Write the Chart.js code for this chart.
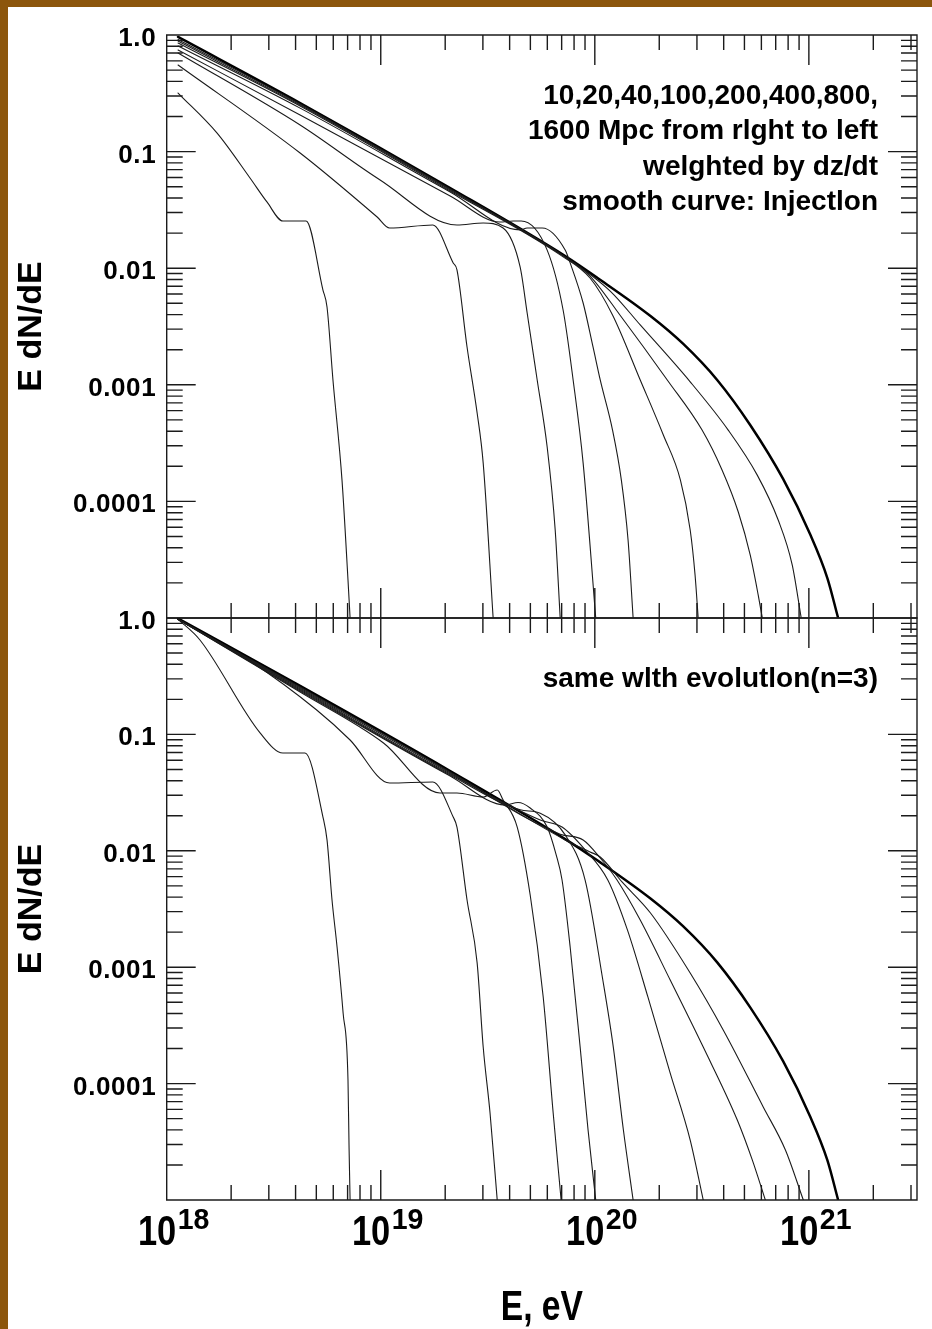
<!DOCTYPE html>
<html>
<head>
<meta charset="utf-8">
<script src="https://cdn.jsdelivr.net/npm/chart.js@4.4.1/dist/chart.umd.min.js"></script>
<style>
  html, body { margin: 0; padding: 0; background: #fff; }
  #page { position: relative; width: 932px; height: 1329px; overflow: hidden; background: #fff; }
  #page canvas { position: absolute; left: 0; }
  #cTop { top: 0; }
  #cBot { top: 580px; }
  .edge { position: absolute; background: #8c560c; z-index: 5; }
</style>
</head>
<body>
<div id="page">
  <canvas id="cTop" width="932" height="640"></canvas>
  <canvas id="cBot" width="932" height="749"></canvas>
  <div class="edge" style="left:0;top:0;width:8px;height:1329px"></div>
  <div class="edge" style="left:0;top:0;width:932px;height:7px"></div>
</div>
<script>
// E (eV), E dN/dE
const distances = [10, 20, 40, 100, 200, 400, 800, 1600]; // Mpc

// top panel: weighted by dz/dt
const topInj = [[1.13e18,0.962],[4.2e18,0.261],[2.11e19,0.0487],[7.27e19,0.0127],[1.03e20,0.00824],[1.82e20,0.00389],[2.59e20,0.00224],[3.73e20,0.0011],[5.32e20,4.52e-4],[7.59e20,1.55e-4],[1.01e21,5.3e-5],[1.22e21,2.2e-5],[1.37e21,1e-5]];
const top10 = [[1.13e18,0.915],[4.2e18,0.256],[2.11e19,0.0478],[7.27e19,0.0125],[1.18e20,0.00637],[1.63e20,0.00326],[2.79e20,0.00106],[4.2e20,4.09e-4],[5.74e20,1.68e-4],[7.19e20,6.92e-5],[8.36e20,2.85e-5],[9.21e20,1e-5]];
const top20 = [[1.13e18,0.888],[4.2e18,0.251],[2.11e19,0.0469],[7.27e19,0.0125],[9.5e19,0.00857],[1.31e20,0.00397],[2.18e20,0.0011],[3.17e20,4.09e-4],[3.93e20,1.86e-4],[4.68e20,8.11e-5],[5.32e20,3.47e-5],[5.8e20,1.57e-5],[6.06e20,1e-5]];
const top40 = [[1.13e18,0.854],[4.2e18,0.246],[2.11e19,0.0459],[6.89e19,0.013],[9.5e19,0.00824],[1.21e20,0.00397],[1.63e20,0.0011],[2.09e20,3.71e-4],[2.51e20,1.53e-4],[2.79e20,5.69e-5],[2.94e20,2.34e-5],[3.04e20,1e-5]];
const top100 = [[1.13e18,0.805],[4.2e18,0.236],[2.11e19,0.0451],[4.48e19,0.0213],[4.83e19,0.0221],[5.68e19,0.0221],[7.27e19,0.0143],[7.67e19,0.0111],[8.82e19,0.00503],[9.81e19,0.00211],[1.06e20,0.0011],[1.21e20,4.09e-4],[1.33e20,1.53e-4],[1.43e20,4.67e-5],[1.51e20,1e-5]];
const top200 = [[1.13e18,0.744],[4.2e18,0.206],[2.11e19,0.0416],[3.61e19,0.0249],[4.15e19,0.0254],[4.53e19,0.0254],[5.99e19,0.0143],[7.11e19,0.00438],[7.92e19,0.0011],[8.82e19,2.13e-4],[1.01e20,1e-5]];
const top400 = [[1.13e18,0.701],[4.2e18,0.169],[9.93e18,0.0571],[2.27e19,0.0235],[3.01e19,0.0244],[3.73e19,0.0221],[4.48e19,0.0102],[4.83e19,0.00413],[5.38e19,0.0011],[5.99e19,2.93e-4],[6.53e19,5.69e-5],[6.89e19,1e-5]];
const top800 = [[1.13e18,0.553],[4.2e18,0.0973],[9.62e18,0.0275],[1.1e19,0.0221],[1.75e19,0.0235],[2.18e19,0.0111],[2.27e19,0.00966],[2.53e19,0.00211],[2.82e19,5.73e-4],[3.01e19,2.13e-4],[3.35e19,1e-5]];
const top1600 = [[1.13e18,0.318],[1.72e18,0.144],[2.45e18,0.0594],[2.94e18,0.037],[3.49e18,0.0254],[4.48e18,0.0254],[5.37e18,0.0065],[5.61e18,0.00465],[5.98e18,0.0011],[6.59e18,1.53e-4],[7.03e18,2.12e-5],[7.19e18,1e-5]];

// bottom panel: same with evolution (n=3)
const botInj = [[1.13e18,0.99],[4.2e18,0.261],[2.11e19,0.0485],[7.27e19,0.0126],[1.03e20,0.00824],[1.82e20,0.00389],[2.59e20,0.00224],[3.73e20,0.0011],[5.32e20,4.52e-4],[7.59e20,1.55e-4],[1.01e21,5.3e-5],[1.22e21,2.2e-5],[1.37e21,1e-5]];
const bot10 = [[1.13e18,0.975],[4.2e18,0.255],[2.11e19,0.0476],[7.27e19,0.0124],[9.5e19,0.00977],[1.06e20,0.00885],[1.34e20,0.0054],[1.82e20,0.00292],[2.79e20,8.91e-4],[3.98e20,2.89e-4],[6.12e20,6.3e-5],[7.77e20,2.69e-5],[9.42e20,1e-5]];
const bot20 = [[1.13e18,0.975],[4.2e18,0.25],[2.11e19,0.0466],[6.89e19,0.0139],[8.82e19,0.0124],[1.06e20,0.00867],[1.27e20,0.00561],[1.63e20,0.00254],[2.25e20,7.76e-4],[3.21e20,2.06e-4],[4.63e20,4.87e-5],[5.44e20,2.21e-5],[6.26e20,1e-5]];
const bot40 = [[1.13e18,0.975],[4.2e18,0.245],[2.11e19,0.0457],[5.56e19,0.0184],[7.03e19,0.016],[9.01e19,0.0102],[1.15e20,0.00561],[1.42e20,0.00209],[1.77e20,5.55e-4],[2.25e20,1.23e-4],[2.79e20,3.27e-5],[3.21e20,1e-5]];
const bot100 = [[1.13e18,0.975],[4.2e18,0.241],[2.11e19,0.0448],[4.48e19,0.0225],[5.56e19,0.021],[7.27e19,0.0137],[9.01e19,0.00561],[1.09e20,7.76e-4],[1.22e20,2.06e-4],[1.36e20,3.99e-5],[1.51e20,1e-5]];
const bot200 = [[1.13e18,0.975],[4.2e18,0.236],[2.11e19,0.0439],[3.81e19,0.0247],[4.38e19,0.026],[4.99e19,0.0233],[5.99e19,0.016],[6.6e19,0.00922],[7.03e19,0.00561],[7.67e19,0.00149],[8.54e19,2.06e-4],[9.3e19,3.99e-5],[1.01e20,1e-5]];
const bot400 = [[1.13e18,0.975],[4.2e18,0.231],[1.03e19,0.0844],[1.89e19,0.0314],[2.27e19,0.0314],[3.01e19,0.029],[3.5e19,0.0333],[3.73e19,0.0273],[4.34e19,0.016],[4.99e19,0.00417],[5.74e19,5.55e-4],[6.39e19,5.59e-5],[6.96e19,1e-5]];
const bot800 = [[1.13e18,0.975],[2.45e18,0.427],[5.02e18,0.162],[7.19e18,0.0895],[1.1e19,0.0382],[1.75e19,0.039],[2.18e19,0.0195],[2.27e19,0.016],[2.53e19,0.00378],[2.82e19,0.00109],[3.01e19,2.06e-4],[3.24e19,5.59e-5],[3.5e19,1e-5]];
const bot1600 = [[1.13e18,0.975],[1.43e18,0.647],[2.73e18,0.103],[3.49e18,0.0692],[4.43e18,0.0692],[5.37e18,0.0195],[5.61e18,0.0124],[5.92e18,0.00378],[6.25e18,0.00149],[6.67e18,4.04e-4],[7.03e18,1.07e-4],[7.11e18,2.85e-5],[7.19e18,1e-5]];

const topCurves = [top10, top20, top40, top100, top200, top400, top800, top1600];
const botCurves = [bot10, bot20, bot40, bot100, bot200, bot400, bot800, bot1600];

const yTickValues = [1, 0.1, 0.01, 0.001, 0.0001];
const yTickLabels = ['1.0', '0.1', '0.01', '0.001', '0.0001'];
const xTickValues = [1e18, 1e19, 1e20, 1e21];
const xTickExps = ['18', '19', '20', '21'];
const yTitle = 'E dN/dE';
const xTitle = 'E, eV';
const topNote = ['10,20,40,100,200,400,800,', '1600 Mpc from rlght to left', 'welghted by dz/dt', 'smooth curve: Injectlon'];
const botNote = ['same wlth evolutlon(n=3)'];

const FONT = '"Liberation Sans", Arial, Helvetica, sans-serif';
const INK = '#1b1b1b';

// text squeezed horizontally (the tick labels of the original are narrow)
function fillNarrow(ctx, text, x, y, sx) {
  ctx.save();
  ctx.translate(x, y);
  ctx.scale(sx, 1);
  ctx.fillText(text, 0, 0);
  ctx.restore();
}

// frame with inward ticks on all four sides, labels and notes
const panelFrame = {
  id: 'panelFrame',
  afterDatasetsDraw(chart, args, opts) {
    const { ctx, chartArea: a, scales: { x, y } } = chart;
    ctx.save();
    ctx.strokeStyle = INK;
    ctx.lineWidth = 1.4;
    ctx.beginPath();
    ctx.rect(a.left, a.top, a.right - a.left, a.bottom - a.top);
    for (let d = 18; d <= 21; d++) {
      for (let m = 1; m <= 9; m++) {
        const v = m * Math.pow(10, d);
        if (v <= x.min || v >= x.max) continue;
        const px = x.getPixelForValue(v);
        const len = m === 1 ? 30 : 15;
        ctx.moveTo(px, a.top); ctx.lineTo(px, a.top + len);
        ctx.moveTo(px, a.bottom); ctx.lineTo(px, a.bottom - len);
      }
    }
    for (let d = -5; d <= 0; d++) {
      for (let m = 1; m <= 9; m++) {
        const v = m * Math.pow(10, d);
        if (v <= y.min || v >= y.max) continue;
        const py = y.getPixelForValue(v);
        const len = m === 1 ? 29 : 16;
        ctx.moveTo(a.left, py); ctx.lineTo(a.left + len, py);
        ctx.moveTo(a.right, py); ctx.lineTo(a.right - len, py);
      }
    }
    ctx.stroke();

    ctx.fillStyle = '#000';
    ctx.textBaseline = 'alphabetic';
    ctx.textAlign = 'right';
    ctx.font = `bold 26px ${FONT}`;
    ctx.letterSpacing = '0.6px';
    yTickValues.forEach((v, i) => ctx.fillText(yTickLabels[i], a.left - 10.5, y.getPixelForValue(v) + 11));
    ctx.letterSpacing = '0px';

    ctx.font = `bold 28px ${FONT}`;
    opts.note.forEach((t, i) => ctx.fillText(t, a.right - 39, a.top + 69 + i * 35.3));

    ctx.save();
    ctx.translate(a.left - 135, (a.top + a.bottom) / 2);
    ctx.rotate(-Math.PI / 2);
    ctx.textAlign = 'center';
    ctx.textBaseline = 'middle';
    ctx.font = `bold 34px ${FONT}`;
    ctx.fillText(yTitle, 0, 0);
    ctx.restore();

    if (opts.xLabels) {
      xTickValues.forEach((v, i) => {
        const px = x.getPixelForValue(v);
        ctx.textAlign = 'right';
        ctx.font = `bold 42px ${FONT}`;
        fillNarrow(ctx, '10', px + 9.5, a.bottom + 45, 0.82);
        ctx.textAlign = 'left';
        ctx.font = `bold 30px ${FONT}`;
        fillNarrow(ctx, xTickExps[i], px + 11, a.bottom + 29, 0.95);
      });
      ctx.textAlign = 'center';
      ctx.font = `bold 42px ${FONT}`;
      fillNarrow(ctx, xTitle, (a.left + a.right) / 2, a.bottom + 120, 0.8);
    }
    ctx.restore();
  }
};

const toXY = pts => pts.map(([x, y]) => ({ x, y }));

function buildDatasets(curves, inj) {
  const ds = curves.map((c, i) => ({
    label: distances[i] + ' Mpc', data: toXY(c), borderColor: INK, borderWidth: 1.1
  }));
  ds.push({ label: 'injection', data: toXY(inj), borderColor: '#000', borderWidth: 2.5 });
  return ds;
}

function makePanel(id, curves, inj, note, padding, xLabels) {
  return new Chart(document.getElementById(id), {
    type: 'line',
    data: { datasets: buildDatasets(curves, inj) },
    options: {
      responsive: false,
      animation: false,
      devicePixelRatio: 1,
      layout: { padding },
      elements: {
        point: { radius: 0 },
        line: { cubicInterpolationMode: 'monotone', borderCapStyle: 'round', borderJoinStyle: 'round' }
      },
      plugins: {
        legend: { display: false },
        tooltip: { enabled: false },
        panelFrame: { note, xLabels }
      },
      scales: {
        x: { type: 'logarithmic', min: 1e18, max: 3.2e21, display: false },
        y: { type: 'logarithmic', min: 1e-5, max: 1, display: false }
      }
    },
    plugins: [panelFrame]
  });
}

makePanel('cTop', topCurves, topInj, topNote, { left: 166.7, right: 15, top: 35, bottom: 22 }, false);
makePanel('cBot', botCurves, botInj, botNote, { left: 166.7, right: 15, top: 38, bottom: 129 }, true);
</script>
</body>
</html>
